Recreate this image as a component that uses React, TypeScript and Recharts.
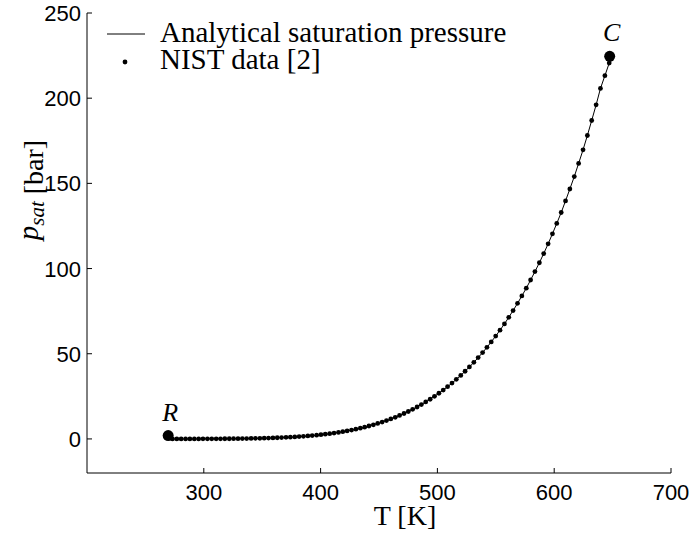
import { ComposedChart, Line, Scatter, XAxis, YAxis } from 'recharts';

// NIST saturation data for water, triple point -> critical point
const temperatureK = [
  273.2, 276.9, 280.6, 284.4, 288.1, 291.9, 295.6, 299.3, 303.1, 306.8,
  310.6, 314.3, 318.0, 321.8, 325.5, 329.3, 333.0, 336.7, 340.5, 344.2,
  348.0, 351.7, 355.4, 359.2, 362.9, 366.6, 370.4, 374.1, 377.9, 381.6,
  385.3, 389.1, 392.8, 396.6, 400.3, 404.0, 407.8, 411.5, 415.3, 419.0,
  422.7, 426.5, 430.2, 434.0, 437.7, 441.4, 445.2, 448.9, 452.7, 456.4,
  460.1, 463.9, 467.6, 471.4, 475.1, 478.8, 482.6, 486.3, 490.0, 493.8,
  497.5, 501.3, 505.0, 508.7, 512.5, 516.2, 520.0, 523.7, 527.4, 531.2,
  534.9, 538.7, 542.4, 546.1, 549.9, 553.6, 557.4, 561.1, 564.8, 568.6,
  572.3, 576.1, 579.8, 583.5, 587.3, 591.0, 594.8, 598.5, 602.2, 606.0,
  609.7, 613.4, 617.2, 620.9, 624.7, 628.4, 632.1, 635.9, 639.6, 643.4,
  647.1,
];
const pressureBar = [
  0.006, 0.008, 0.010, 0.013, 0.017, 0.022, 0.027, 0.034, 0.042, 0.052,
  0.064, 0.078, 0.095, 0.115, 0.138, 0.166, 0.197, 0.234, 0.277, 0.326,
  0.382, 0.446, 0.518, 0.602, 0.693, 0.798, 0.917, 1.047, 1.195, 1.359,
  1.539, 1.742, 1.962, 2.207, 2.480, 2.770, 3.094, 3.448, 3.829, 4.251,
  4.702, 5.192, 5.732, 6.297, 6.918, 7.587, 8.296, 9.071, 9.887, 10.76,
  11.72, 12.70, 13.77, 14.91, 16.11, 17.40, 18.74, 20.17, 21.72, 23.30,
  25.00, 26.80, 28.68, 30.68, 32.76, 34.96, 37.30, 39.71, 42.26, 44.94,
  47.73, 50.69, 53.74, 56.95, 60.35, 63.83, 67.52, 71.38, 75.36, 79.57,
  83.94, 88.48, 93.28, 98.22, 103.4, 108.8, 114.5, 120.4, 126.5, 132.9,
  139.7, 146.7, 154.0, 161.7, 169.7, 178.1, 186.9, 196.1, 205.7, 213.2,
  220.6,
];

const endNames = ['R', 'C'];
const endT = [269.5, 647.5];
const endP = [2, 224.6];

const xTicks = [300, 400, 500, 600, 700];
const yTicks = [0, 50, 100, 150, 200, 250];

const rows = temperatureK.map((T, i) => ({ T, p: pressureBar[i] }));
const ends = endNames.map((name, i) => ({ name, T: endT[i], p: endP[i] }));

const SANS = '"Liberation Sans", Arial, sans-serif';
const SERIF = '"Liberation Serif", "Times New Roman", serif';

const W = 691;
const H = 533;

function XTick({ x, y, payload }: any) {
  return (
    <g>
      <line x1={x} x2={x} y1={y - 5} y2={y} stroke="#000" />
      <text x={x} y={y + 27} textAnchor="middle" fontSize={22} fontFamily={SANS} fill="#000">
        {payload.value}
      </text>
    </g>
  );
}

function YTick({ x, y, payload }: any) {
  return (
    <g>
      <line x1={x} x2={x + 5} y1={y} y2={y} stroke="#000" />
      <text x={x - 6} y={y + 8} textAnchor="end" fontSize={22} fontFamily={SANS} fill="#000">
        {payload.value}
      </text>
    </g>
  );
}

function NistDot({ cx, cy }: any) {
  return <circle cx={cx} cy={cy} r={2.4} fill="#000" />;
}

function EndPoint({ cx, cy, payload }: any) {
  return (
    <g>
      <circle cx={cx} cy={cy} r={5.5} fill="#000" />
      <text x={cx + 2} y={cy - 15} textAnchor="middle" fontSize={26} fontStyle="italic" fontFamily={SERIF} fill="#000">
        {payload.name}
      </text>
    </g>
  );
}

export default function App() {
  return (
    <div style={{ position: 'absolute', left: 0, top: 0, width: W, height: H, background: '#fff' }}>
      <ComposedChart width={W} height={H} data={rows} margin={{ top: 13, right: 20, bottom: 0, left: 0 }}>
        <XAxis
          dataKey="T"
          type="number"
          domain={[200, 700]}
          ticks={xTicks}
          height={60}
          tickSize={0}
          tickMargin={0}
          tickLine={false}
          axisLine={{ stroke: '#000' }}
          tick={<XTick />}
        />
        <YAxis
          type="number"
          domain={[-20, 250]}
          ticks={yTicks}
          width={87}
          tickSize={0}
          tickMargin={0}
          tickLine={false}
          axisLine={{ stroke: '#000' }}
          tick={<YTick />}
        />
        <Line dataKey="p" type="linear" stroke="#000" strokeWidth={1} dot={false} isAnimationActive={false} />
        <Scatter data={rows} dataKey="p" fill="#000" shape={<NistDot />} isAnimationActive={false} />
        <Scatter data={ends} dataKey="p" fill="#000" shape={<EndPoint />} isAnimationActive={false} />
      </ComposedChart>
      <svg width={W} height={H} style={{ position: 'absolute', left: 0, top: 0, pointerEvents: 'none' }}>
        <line x1={107} x2={145} y1={34} y2={34} stroke="#000" strokeWidth={1} />
        <text x={160} y={42} fontSize={29} fontFamily={SERIF} fill="#000">Analytical saturation pressure</text>
        <circle cx={125} cy={62} r={2.4} fill="#000" />
        <text x={160} y={69} fontSize={29} fontFamily={SERIF} fill="#000">NIST data [2]</text>
        <text x={405} y={525} textAnchor="middle" fontSize={28} fontFamily={SERIF} fill="#000">T [K]</text>
        <text x={43} y={190} transform="rotate(-90, 43, 190)" textAnchor="middle" fontSize={28} fontFamily={SERIF} fill="#000">
          <tspan fontStyle="italic" fontSize={29} dy={-5}>p</tspan>
          <tspan fontStyle="italic" fontSize={21} dy={6}>sat</tspan>
          <tspan dy={-1}> [bar]</tspan>
        </text>
      </svg>
    </div>
  );
}
